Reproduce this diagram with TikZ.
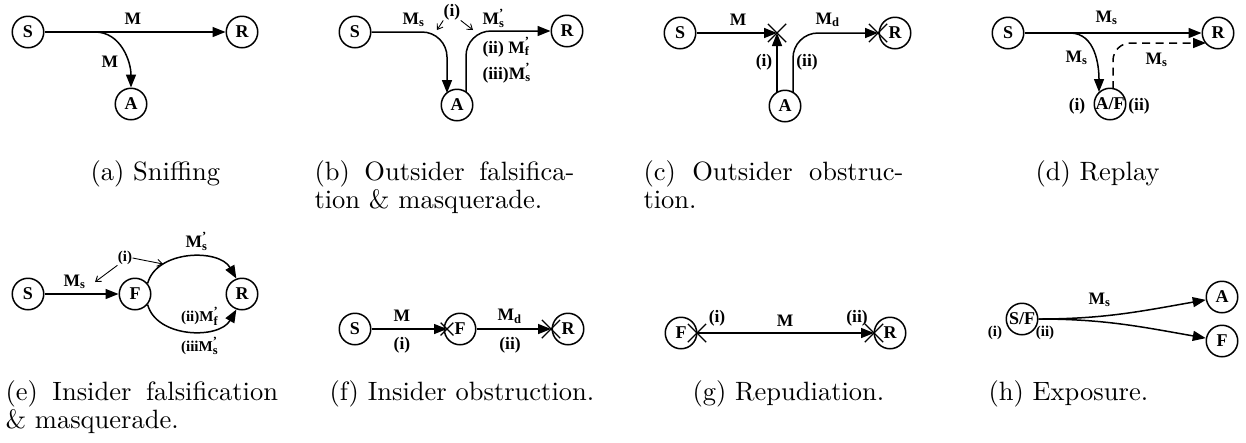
\documentclass[tikz,border=0pt]{standalone}
\usepackage{fontspec}
\newfontfamily\tms{Liberation Serif}
\usetikzlibrary{arrows.meta,shapes.misc}
\newcommand\Msb[1]{M\textsubscript{#1}}
\newcommand\Mpr[1]{M\rlap{\textsuperscript{’}}\textsubscript{#1}}
\tikzset{
  nd/.style={draw, circle, line width=0.6pt, minimum size=12.6pt, inner sep=0pt, font=\tms\bfseries\fontsize{7.2}{8}\selectfont},
  lb/.style={font=\tms\bfseries\fontsize{7}{8}\selectfont, inner sep=0pt},
  sl/.style={font=\tms\bfseries\fontsize{6}{7}\selectfont, inner sep=0pt},
  arr/.style={line width=0.6pt, -{Triangle[length=5.2pt,width=4pt]}},
  tarr/.style={line width=0.35pt, -{Straight Barb[length=2pt,width=2.8pt]}},
  xm/.style={cross out, draw, line width=0.5pt, minimum size=6.8pt, inner sep=0pt},
  xs/.style={cross out, draw, line width=0.5pt, minimum size=4.6pt, inner sep=0pt},
  captxt/.style={font=\fontsize{10.6}{11.2}\selectfont, inner sep=0pt, anchor=north west},
  capj/.style={captxt, text width=104pt, align=justify},
  dsh/.style={dash pattern=on 3.2pt off 2.2pt}
}
\begin{document}
\begin{tikzpicture}[x=0.4pt,y=0.4pt]
\useasboundingbox (0,0) rectangle (1246,-442);
% ---------- (a)
\node[nd] (aS) at (28,-32) {S};
\node[nd] (aR) at (242,-32) {R};
\node[nd] (aA) at (131,-104) {A};
\coordinate (a1) at (95,-32);
\draw[arr] (aS) -- (aR);
\draw[arr] (a1) to[out=0,in=90] (aA);
\node[lb] (aM1) at (133,-19) {M};
\node[lb] (aM2) at (110,-62) {M};
% ---------- (b)
\node[nd] (bS) at (355,-32) {S};
\node[nd] (bR) at (567,-31) {R};
\node[nd] (bA) at (457,-105) {A};
\coordinate (bA1) at (447,-93);
\coordinate (bA2) at (466,-92);
\draw[arr,rounded corners=10pt] (bS) -| (bA1);
\draw[arr,rounded corners=10pt] (bA2) |- (bR);
\node[lb] (bM1) at (414,-20) {\Msb{s}};
\node[lb] (bi) at (452,-12) {(i)};
\coordinate (bp1) at (437,-30);
\coordinate (bp2) at (473,-30);
\draw[tarr] (bi.south west) -- (bp1);
\draw[tarr] (bi.south east) -- (bp2);
\node[lb] (bM2) at (494,-18) {\Mpr{s}};
\node[lb,anchor=west] (bii) at (482,-47) {(ii) \Mpr{f}};
\node[lb,anchor=west] (biii) at (482,-73) {(iii)\Mpr{s}};
% ---------- (c)
\node[nd] (cS) at (680,-33) {S};
\node[nd] (cR) at (895,-33) {R};
\node[nd] (cA) at (785,-106) {A};
\node[xm] (cX1) at (777,-33) {};
\node[xm] (cX2) at (878,-33) {};
\coordinate (cA1) at (777,-93);
\coordinate (cA2) at (793,-93);
\draw[arr] (cS) -- (cX1.center);
\draw[arr] (cA1) -- (cX1.center);
\draw[arr,rounded corners=10pt] (cA2) |- (cX2.center);
\node[lb] (cM1) at (738,-20) {M};
\node[lb] (cM2) at (828,-20) {\Msb{d}};
\node[lb] (ci) at (764,-62) {(i)};
\node[lb] (cii) at (807,-62) {(ii)};
% ---------- (d)
\node[nd] (dS) at (1008,-33) {S};
\node[nd] (dR) at (1218,-33) {R};
\node[nd] (dA) at (1110,-104) {A/F};
\coordinate (d1) at (1070,-33);
\coordinate (dA1) at (1099,-92);
\coordinate (dA2) at (1113,-89);
\coordinate (dR1) at (1206,-43);
\draw[arr] (dS) -- (dR);
\draw[arr] (d1) to[out=0,in=90] (dA1);
\draw[arr,dsh,rounded corners=7pt] (dA2) |- (dR1);
\node[lb] (dM1) at (1107,-18) {\Msb{s}};
\node[lb] (dM2) at (1077,-58) {\Msb{s}};
\node[lb] (dM3) at (1157,-60) {\Msb{s}};
\node[lb] (di) at (1077,-106) {(i)};
\node[lb] (dii) at (1139,-106) {(ii)};
% ---------- (e)
\node[nd] (eS) at (28,-294) {S};
\node[nd] (eF) at (135,-294) {F};
\node[nd] (eR) at (242,-294) {R};
\draw[arr] (eS) -- (eF);
\draw[arr] (eF.40) to[out=75,in=120] (eR.110);
\draw[arr] (eF.-40) to[out=-75,in=-120] (eR.-110);
\node[lb] (eM1) at (75,-282) {\Msb{s}};
\node[sl] (ei) at (125,-258) {(i)};
\coordinate (ep1) at (95,-282);
\coordinate (ep2) at (163,-264);
\draw[tarr] (ei.south west) -- (ep1);
\draw[tarr] (ei.east) -- (ep2);
\node[lb] (eM2) at (197,-241) {\Mpr{s}};
\node[sl] (eii) at (200,-316) {(ii)\Mpr{f}};
\node[sl] (eiii) at (200,-346) {(iii\Mpr{s}};
% ---------- (f)
\node[nd] (fS) at (355,-329) {S};
\node[nd] (fF) at (460,-329) {F};
\node[nd] (fR) at (568,-329) {R};
\node[xs] (fX1) at (447,-329) {};
\node[xm] (fX2) at (551,-329) {};
\draw[arr] (fS) -- (fX1.center);
\draw[arr] (fF) -- (fX2.center);
\node[lb] (fM1) at (402,-316) {M};
\node[lb] (fM2) at (510,-316) {\Msb{d}};
\node[lb] (fi) at (402,-345) {(i)};
\node[lb] (fii) at (510,-345) {(ii)};
% ---------- (g)
\node[nd] (gF) at (681,-333) {F};
\node[nd] (gR) at (890,-333) {R};
\node[xm] (gX1) at (697,-333) {};
\node[xm] (gX2) at (874,-333) {};
\draw[arr] (gX1.center) -- (gX2.center);
\node[lb] (gi) at (717,-318) {(i)};
\node[lb] (gii) at (857,-318) {(ii)};
\node[lb] (gM) at (785,-321) {M};
% ---------- (h)
\node[nd] (hS) at (1022,-319) {S/F};
\node[nd] (hA) at (1222,-297) {A};
\node[nd] (hF) at (1222,-341) {F};
\draw[arr] (hS) to[out=0,in=190] (hA);
\draw[arr] (hS) to[out=0,in=170] (hF);
\node[lb] (hM) at (1100,-300) {\Msb{s}};
\node[sl] (hi) at (995,-333) {(i)};
\node[sl] (hii) at (1045,-333) {(ii)};
% ---------- captions
\node[captxt] (capa) at (90,-160) {(a) Sniffing};
\node[capj] (capb) at (314,-160) {(b) Outsider falsifica-\linebreak tion \& masquerade.};
\node[capj] (capc) at (643,-160) {(c) Outsider obstruc-\linebreak tion.};
\node[captxt] (capd) at (1035,-160) {(d) Replay};
\node[capj,text width=109pt] (cape) at (5,-380) {(e) Insider falsification\linebreak \& masquerade.};
\node[captxt] (capf) at (329,-380) {(f) Insider obstruction.};
\node[captxt] (capg) at (692,-380) {(g) Repudiation.};
\node[captxt] (caph) at (988,-380) {(h) Exposure.};
\end{tikzpicture}
\end{document}
